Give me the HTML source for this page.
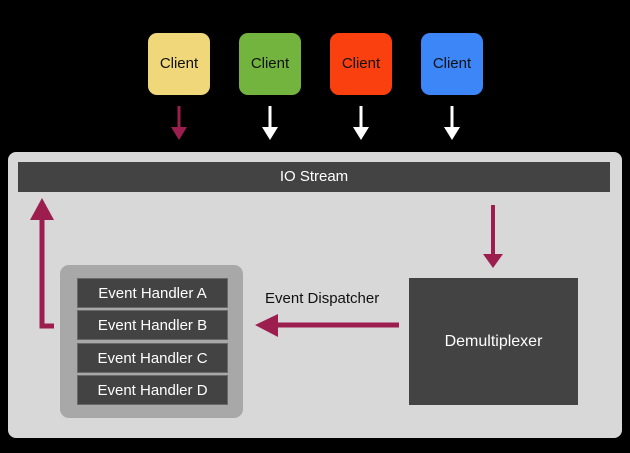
<html><head><style>
body{margin:0;width:630px;height:453px;background:#000;position:relative;overflow:hidden;font-family:"Liberation Sans",sans-serif}
div{position:absolute;box-sizing:border-box}
.c{top:33px;width:62px;height:62px;border-radius:9px;color:#111;font-size:15px;line-height:62px;text-align:center}
.h{left:77px;width:151px;height:30px;background:#434343;color:#fff;font-size:15px;line-height:30px;text-align:center;border:1px solid #6a6a6a}
</style></head><body>
<div class="c" style="left:148px;background:#f0d77a">Client</div>
<div class="c" style="left:239px;background:#72b43e">Client</div>
<div class="c" style="left:330px;background:#fb4010">Client</div>
<div class="c" style="left:421px;background:#3c86f8">Client</div>
<div style="left:8px;top:152px;width:614px;height:286px;background:#d8d8d8;border-radius:8px"></div>
<div style="left:18px;top:162px;width:592px;height:30px;background:#434343;color:#fff;font-size:15px;line-height:30px;text-align:center">IO Stream</div>
<div style="left:60px;top:265px;width:183px;height:153px;background:#a8a8a8;border-radius:9px"></div>
<div class="h" style="top:278px">Event Handler A</div>
<div class="h" style="top:310px">Event Handler B</div>
<div class="h" style="top:343px">Event Handler C</div>
<div class="h" style="top:375px">Event Handler D</div>
<div style="left:409px;top:278px;width:169px;height:127px;background:#434343;color:#fff;font-size:16px;line-height:127px;text-align:center">Demultiplexer</div>
<div style="left:265px;top:290px;font-size:15px;color:#111">Event Dispatcher</div>
<svg width="630" height="453" style="position:absolute;left:0;top:0">
<g fill="#9c1e4e" stroke="#9c1e4e">
<line x1="179" y1="106" x2="179" y2="130" stroke-width="3"/><polygon points="171,127 187,127 179,140" stroke="none"/>
<line x1="493" y1="205" x2="493" y2="258" stroke-width="4"/><polygon points="483,254 503,254 493,268" stroke="none"/>
<polyline points="54,326 42,326 42,210" fill="none" stroke-width="5"/><polygon points="30,220 54,220 42,198" stroke="none"/>
<line x1="399" y1="325" x2="270" y2="325" stroke-width="5"/><polygon points="278,314 278,337 255,325" stroke="none"/>
</g>
<g fill="#fff" stroke="#fff">
<line x1="270" y1="106" x2="270" y2="130" stroke-width="3"/><polygon points="262,127 278,127 270,140" stroke="none"/>
<line x1="361" y1="106" x2="361" y2="130" stroke-width="3"/><polygon points="353,127 369,127 361,140" stroke="none"/>
<line x1="452" y1="106" x2="452" y2="130" stroke-width="3"/><polygon points="444,127 460,127 452,140" stroke="none"/>
</g></svg>
</body></html>
